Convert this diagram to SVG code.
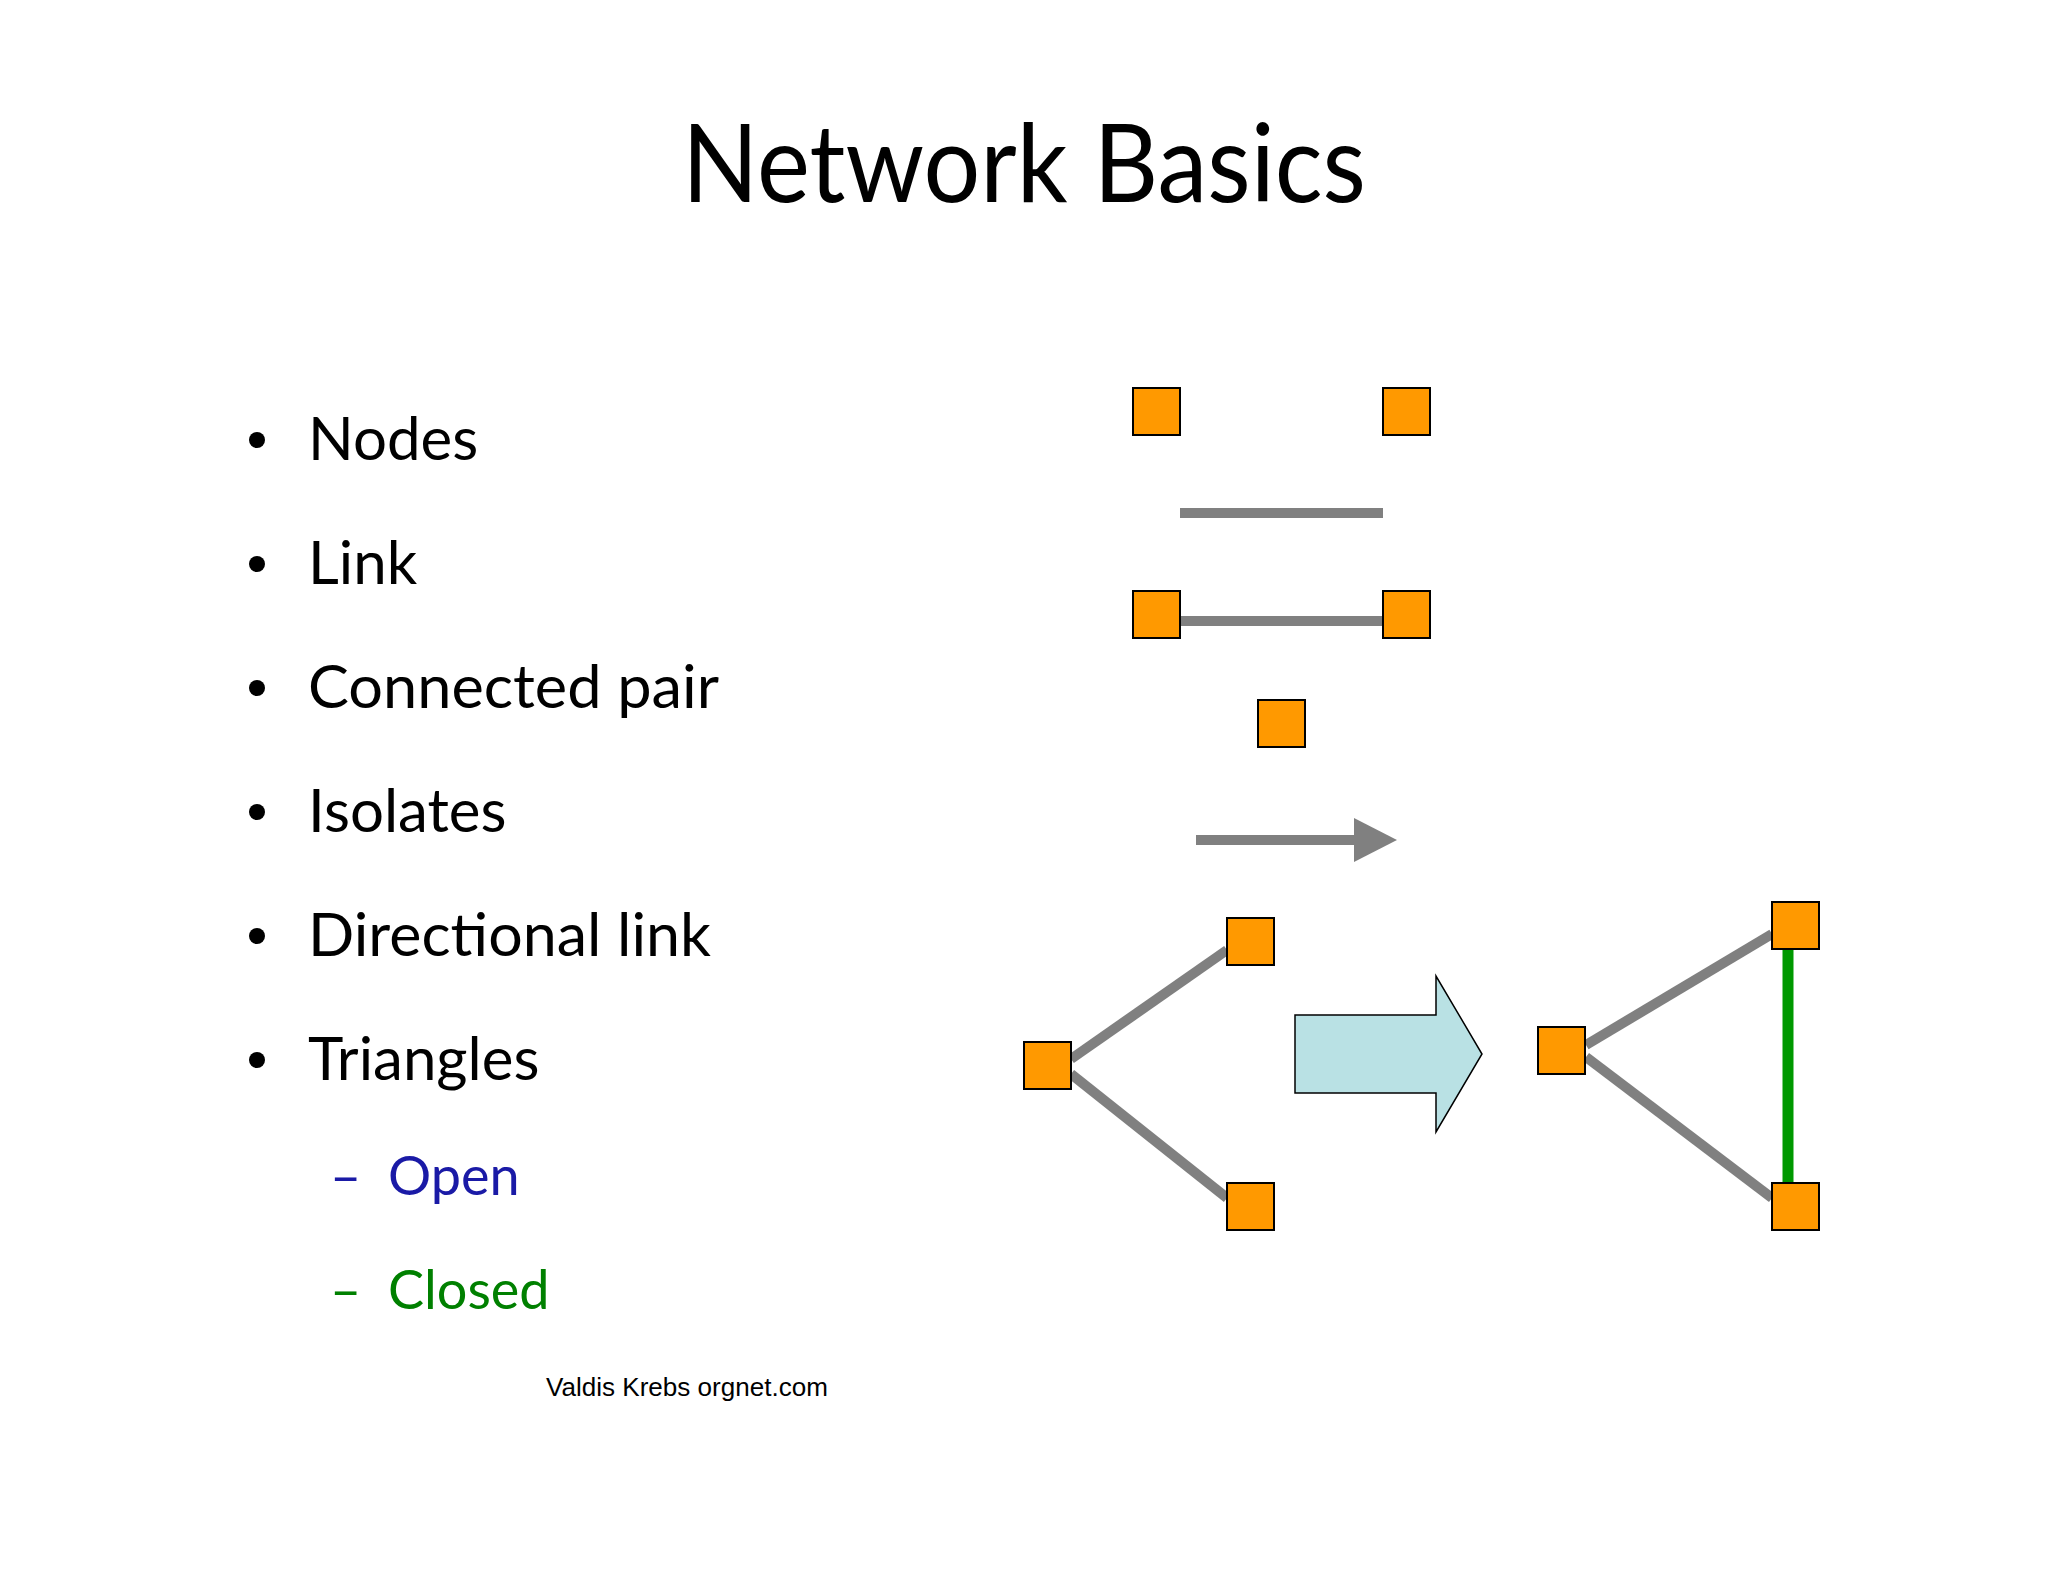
<svg xmlns="http://www.w3.org/2000/svg" width="2048" height="1582" viewBox="0 0 2048 1582">
<style>
.n{fill:#FF9900;stroke:#000;stroke-width:2}
.l{stroke:#808080;stroke-width:10;fill:none}
.t{font-family:Lato,"Open Sans",sans-serif;font-size:60px;fill:#000}
</style>
<rect width="2048" height="1582" fill="#fff"/>
<text x="1024" y="202" text-anchor="middle" font-family="Lato,'Open Sans',sans-serif" font-size="108" textLength="684" lengthAdjust="spacingAndGlyphs">Network Basics</text>
<g id="bullets">
<g class="t">
<circle cx="257" cy="440" r="8"/><text x="308" y="460">Nodes</text>
<circle cx="257" cy="564" r="8"/><text x="308" y="584">Link</text>
<circle cx="257" cy="688" r="8"/><text x="308" y="708" textLength="411" lengthAdjust="spacingAndGlyphs">Connected pair</text>
<circle cx="257" cy="812" r="8"/><text x="308" y="832">Isolates</text>
<circle cx="257" cy="936" r="8"/><text x="308" y="956" textLength="403" lengthAdjust="spacingAndGlyphs">Directional link</text>
<circle cx="257" cy="1060" r="8"/><text x="308" y="1080">Triangles</text>
</g>
<text x="330" y="1195" class="t" style="fill:#1a1aa6;font-size:54px">–</text><text x="388" y="1195" class="t" style="fill:#1a1aa6;font-size:54px">Open</text>
<text x="330" y="1309" class="t" style="fill:#008000;font-size:54px">–</text><text x="388" y="1309" class="t" style="fill:#008000;font-size:54px">Closed</text>
</g>
<text x="546" y="1396" font-family="'Liberation Sans',Arial,sans-serif" font-size="26" textLength="282" lengthAdjust="spacingAndGlyphs">Valdis Krebs orgnet.com</text>
<g id="connectors">
<line class="l" x1="1180" y1="513" x2="1383" y2="513"/>
<line class="l" x1="1180" y1="621" x2="1383" y2="621"/>
<line class="l" x1="1196" y1="840" x2="1356" y2="840"/>
<polygon points="1354,818 1397,840 1354,862" fill="#808080"/>
<line class="l" x1="1071" y1="1059" x2="1227" y2="950"/>
<line class="l" x1="1071" y1="1074" x2="1227" y2="1198"/>
<polygon points="1295,1015 1436,1015 1436,976 1482,1054 1436,1132 1436,1093 1295,1093" fill="#B9E1E4" stroke="#000" stroke-width="1.5"/>
<line class="l" x1="1586" y1="1045" x2="1772" y2="934"/>
<line class="l" x1="1586" y1="1057" x2="1772" y2="1198"/>
<line x1="1788" y1="950" x2="1788" y2="1183" stroke="#009900" stroke-width="11"/>
</g>
<g id="node1"><rect class="n" x="1133" y="388" width="47" height="47"/></g>
<g id="node2"><rect class="n" x="1383" y="388" width="47" height="47"/></g>
<g id="node3"><rect class="n" x="1133" y="591" width="47" height="47"/></g>
<g id="node4"><rect class="n" x="1383" y="591" width="47" height="47"/></g>
<g id="node5"><rect class="n" x="1258" y="700" width="47" height="47"/></g>
<g id="node6"><rect class="n" x="1024" y="1042" width="47" height="47"/></g>
<g id="node7"><rect class="n" x="1227" y="918" width="47" height="47"/></g>
<g id="node8"><rect class="n" x="1227" y="1183" width="47" height="47"/></g>
<g id="node9"><rect class="n" x="1538" y="1027" width="47" height="47"/></g>
<g id="node10"><rect class="n" x="1772" y="902" width="47" height="47"/></g>
<g id="node11"><rect class="n" x="1772" y="1183" width="47" height="47"/></g>
</svg>
